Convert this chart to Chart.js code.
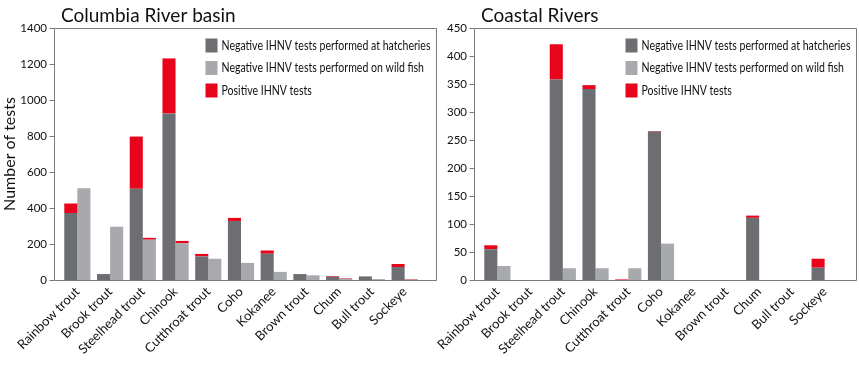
<!DOCTYPE html>
<html>
<head>
<meta charset="utf-8">
<script src="https://cdn.jsdelivr.net/npm/chart.js@4/dist/chart.umd.min.js"></script>
<style>
  body { margin: 0; background: #fff; }
  #wrap { position: relative; width: 859px; height: 365px; overflow: hidden; }
  canvas { position: absolute; top: 0; }
  #left { left: 0; }
  #right { left: 420px; }
</style>
</head>
<body>
<div id="wrap">
  <canvas id="left" width="439" height="365"></canvas>
  <canvas id="right" width="439" height="365"></canvas>
</div>
<script>
// fish species along the x axis
const categories = ['Rainbow trout', 'Brook trout', 'Steelhead trout', 'Chinook', 'Cutthroat trout',
  'Coho', 'Kokanee', 'Brown trout', 'Chum', 'Bull trout', 'Sockeye'];

// Columbia River basin
const columbiaHatchNeg = [372, 33, 507, 925, 131, 328, 146, 33, 18, 20, 72];
const columbiaHatchPos = [53, 0, 290, 306, 14, 17, 18, 0, 4, 0, 17];
const columbiaWildNeg  = [510, 296, 224, 205, 118, 95, 45, 26, 7, 5, 2];
const columbiaWildPos  = [0, 0, 10, 12, 0, 0, 0, 0, 3, 0, 3];

// Coastal Rivers
const coastalHatchNeg = [55, 0, 358, 341, 0, 265, 0, 0, 111, 0, 22];
const coastalHatchPos = [7, 0, 63, 7, 1, 1, 0, 0, 4, 0, 16];
const coastalWildNeg  = [25, 0, 21, 21, 21, 65, 0, 0, 0, 0, 0];
const coastalWildPos  = [0, 0, 0, 0, 0, 0, 0, 0, 0, 0, 0];

const legendLabels = ['Negative IHNV tests performed at hatcheries',
  'Negative IHNV tests performed on wild fish', 'Positive IHNV tests'];

const DARK = '#6d6e71';
const LIGHT = '#a7a9ac';
const RED = '#e8051c';
const AXIS = '#7a7a7a';
const FONT = 'Lato, "Liberation Sans", sans-serif';

// frame sits a little outside the bar area, like the original
const PAD_L = 7, PAD_R = 15;

const framePlugin = {
  id: 'frame',
  afterDraw(chart) {
    const ctx = chart.ctx;
    const a = chart.chartArea;
    const ys = chart.scales.y;
    const l = Math.round(a.left - PAD_L) + 0.5;
    const r = Math.round(a.right + PAD_R) + 0.5;
    const t = Math.round(a.top) + 0.5;
    const b = Math.round(a.bottom) + 0.5;
    ctx.save();
    ctx.strokeStyle = AXIS;
    ctx.lineWidth = 1;
    ctx.beginPath();
    ctx.rect(l, t, r - l, b - t);
    ys.ticks.forEach(function(tk) {
      const py = Math.round(ys.getPixelForValue(tk.value)) + 0.5;
      ctx.moveTo(l - 5, py);
      ctx.lineTo(l, py);
    });
    ctx.stroke();

    // legend, top right inside the frame; the original font is condensed,
    // so squeeze the lines so the longest one is ~209px wide
    const colors = [DARK, LIGHT, RED];
    const bx = r - 231;
    ctx.font = '12.5px ' + FONT;
    ctx.textBaseline = 'middle';
    const squeeze = 209 / ctx.measureText(legendLabels[0]).width;
    for (var i = 0; i < legendLabels.length; ++i) {
      const cy = t + 17 + i * 22.5;
      ctx.fillStyle = colors[i];
      ctx.fillRect(bx, cy - 7, 12, 14);
      ctx.fillStyle = '#111';
      ctx.fillText(legendLabels[i], bx + 16, cy, ctx.measureText(legendLabels[i]).width * squeeze);
    }
    ctx.restore();
  }
};

function makeChart(id, title, hatchNeg, hatchPos, wildNeg, wildPos, yMax, yStep, yTitle)
{
  return new Chart(document.getElementById(id), {
    type: 'bar',
    data: {
      labels: categories,
      datasets: [
        { label: legendLabels[0], data: hatchNeg, backgroundColor: DARK, stack: 'hatch' },
        { label: legendLabels[2], data: hatchPos, backgroundColor: RED, stack: 'hatch' },
        { label: legendLabels[1], data: wildNeg, backgroundColor: LIGHT, stack: 'wild' },
        { label: legendLabels[2], data: wildPos, backgroundColor: RED, stack: 'wild' }
      ]
    },
    options: {
      responsive: false,
      animation: false,
      devicePixelRatio: 1,
      layout: { padding: { left: 0, right: 18, top: 0, bottom: 0 } },
      datasets: { bar: { barPercentage: 1, categoryPercentage: 0.8 } },
      plugins: {
        legend: { display: false },
        tooltip: { enabled: false },
        title: {
          display: true,
          text: title,
          align: 'start',
          fullSize: false,
          color: '#111',
          font: { family: FONT, size: 19, weight: 'normal', lineHeight: 1 },
          padding: { top: 6, bottom: 3 }
        }
      },
      scales: {
        x: {
          grid: { display: false, drawTicks: false },
          border: { display: false },
          ticks: {
            autoSkip: false,
            maxRotation: 45,
            minRotation: 45,
            padding: 4,
            color: '#111',
            font: { family: FONT, size: 13 }
          },
          afterFit: function(scale) { scale.height = 85; }
        },
        y: {
          stacked: true,
          min: 0,
          max: yMax,
          grid: { display: false, drawTicks: false },
          border: { display: false },
          ticks: {
            stepSize: yStep,
            padding: 14,
            color: '#111',
            font: { family: FONT, size: 11.5 },
            callback: function(v) { return String(v); }
          },
          title: {
            display: !!yTitle,
            text: yTitle,
            color: '#111',
            padding: 0,
            font: { family: FONT, size: 16 }
          },
          afterFit: function(scale) { scale.width = 61; }
        }
      }
    },
    plugins: [framePlugin]
  });
}

const leftChart = makeChart('left', 'Columbia River basin',
  columbiaHatchNeg, columbiaHatchPos, columbiaWildNeg, columbiaWildPos, 1400, 200, 'Number of tests');
const rightChart = makeChart('right', 'Coastal Rivers',
  coastalHatchNeg, coastalHatchPos, coastalWildNeg, coastalWildPos, 450, 50, '');
</script>
</body>
</html>
